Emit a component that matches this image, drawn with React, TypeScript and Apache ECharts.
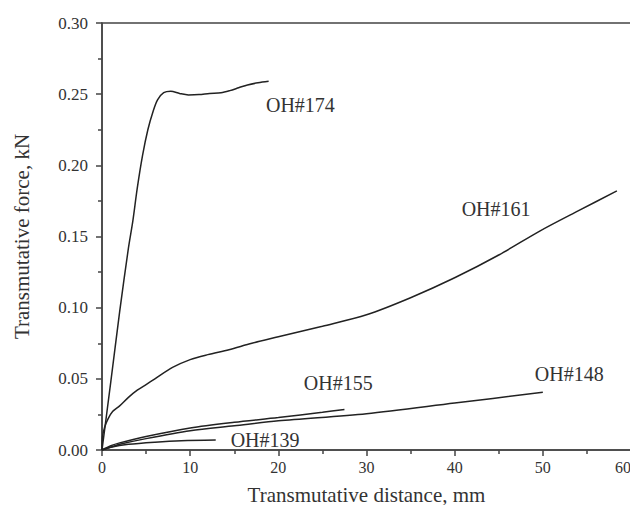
import React, { useEffect, useRef } from "react";
import * as echarts from "echarts";

const xTicks = [0, 10, 20, 30, 40, 50, 60];
const yTicks = [0, 0.05, 0.1, 0.15, 0.2, 0.25, 0.3];

const oh174: [number, number][] = [
  [0, 0], [1, 0.048], [2, 0.097], [3, 0.142], [3.5, 0.161], [4, 0.184],
  [4.6, 0.207], [5.2, 0.225], [5.8, 0.238], [6.3, 0.246], [7, 0.251], [7.8, 0.252],
  [8.8, 0.2505], [9.8, 0.2495], [11, 0.2497], [12.2, 0.2505], [13.5, 0.251], [14.5, 0.2525],
  [15.5, 0.2545], [16.5, 0.2565], [17.7, 0.258], [18.9, 0.259],
];
const oh161: [number, number][] = [
  [0, 0], [0.05, 0.009], [0.3, 0.016], [0.7, 0.022], [1.2, 0.027], [2, 0.031],
  [3, 0.037], [4, 0.042], [5, 0.046], [6, 0.05], [8, 0.058], [10, 0.0635],
  [12, 0.067], [14.4, 0.0705], [17, 0.075], [20, 0.0795], [25, 0.087], [30, 0.095],
  [35, 0.107], [40, 0.121], [45, 0.137], [49.7, 0.154], [54, 0.168], [58.4, 0.182],
];
const oh155: [number, number][] = [
  [0, 0], [1, 0.003], [2, 0.005], [5, 0.0095], [10, 0.0155], [15, 0.0195],
  [20, 0.0228], [25, 0.0265], [27.5, 0.0285],
];
const oh148: [number, number][] = [
  [0, 0], [1, 0.002], [2, 0.004], [5, 0.008], [10, 0.0135], [15, 0.017],
  [20, 0.0205], [30, 0.0255], [40, 0.033], [50, 0.0405],
];
const oh139: [number, number][] = [
  [0, 0], [1, 0.002], [3, 0.004], [6, 0.0055], [9, 0.0065], [12.9, 0.007],
];

const seriesNames = ["OH#174", "OH#161", "OH#155", "OH#148", "OH#139"];
const seriesData = [oh174, oh161, oh155, oh148, oh139];
const labelCoords: [number, number][] = [
  [22.5, 0.2426],
  [44.7, 0.1694],
  [26.8, 0.0469],
  [53.0, 0.0537],
  [18.5, 0.007],
];

export default function App() {
  const ref = useRef<HTMLDivElement>(null);
  useEffect(() => {
    if (!ref.current) return;
    const chart = echarts.init(ref.current, null, { renderer: "svg" });
    const font = "'Liberation Serif', 'Times New Roman', serif";
    const axisColor = "#444";
    chart.setOption({
      animation: false,
      backgroundColor: "#fff",
      grid: {
        left: 102, top: 23, right: 7, bottom: 63,
        show: true, borderColor: axisColor, borderWidth: 1.5,
      },
      xAxis: {
        type: "value", min: 0, max: 60, interval: 10,
        name: "Transmutative distance, mm", nameLocation: "middle", nameGap: 34,
        nameTextStyle: { fontFamily: font, fontSize: 21, color: "#333" },
        axisLine: { show: true, lineStyle: { color: axisColor, width: 1.5 } },
        axisTick: { show: true, inside: false, length: 6, lineStyle: { color: axisColor, width: 1.5 } },
        minorTick: { show: true, splitNumber: 2, length: 4, lineStyle: { color: axisColor, width: 1.5 } },
        splitLine: { show: false },
        axisLabel: {
          fontFamily: font, fontSize: 16, color: "#333", margin: 9,
          formatter: (v: number) => (xTicks.includes(v) ? String(v) : ""),
          alignMaxLabel: "right",
          alignMinLabel: "center",
        },
      },
      yAxis: {
        type: "value", min: 0, max: 0.3, interval: 0.05,
        name: "Transmutative force, kN", nameLocation: "middle", nameGap: 70,
        nameTextStyle: { fontFamily: font, fontSize: 21, color: "#333" },
        axisLine: { show: true, lineStyle: { color: axisColor, width: 1.5 } },
        axisTick: { show: true, inside: false, length: 6, lineStyle: { color: axisColor, width: 1.5 } },
        minorTick: { show: true, splitNumber: 2, length: 4, lineStyle: { color: axisColor, width: 1.5 } },
        splitLine: { show: false },
        axisLabel: {
          fontFamily: font, fontSize: 17, color: "#333", margin: 14,
          formatter: (v: number) => {
            const t = yTicks.find((y) => Math.abs(y - v) < 1e-9);
            return t === undefined ? "" : t.toFixed(2);
          },
        },
      },
      series: seriesData.map((d, i) => ({
        type: "line",
        name: seriesNames[i],
        data: d,
        showSymbol: false,
        symbol: "none",
        smooth: 0.3,
        lineStyle: { color: "#222", width: 1.5 },
        markPoint: {
          symbol: "circle",
          symbolSize: 0,
          data: [{
            coord: labelCoords[i],
            label: {
              show: true, formatter: seriesNames[i], position: "inside",
              fontFamily: font, fontSize: 20, color: "#333",
            },
          }],
        },
      })),
    });
    return () => chart.dispose();
  }, []);
  return <div ref={ref} style={{ width: 638, height: 513, margin: -8 }} />;
}
